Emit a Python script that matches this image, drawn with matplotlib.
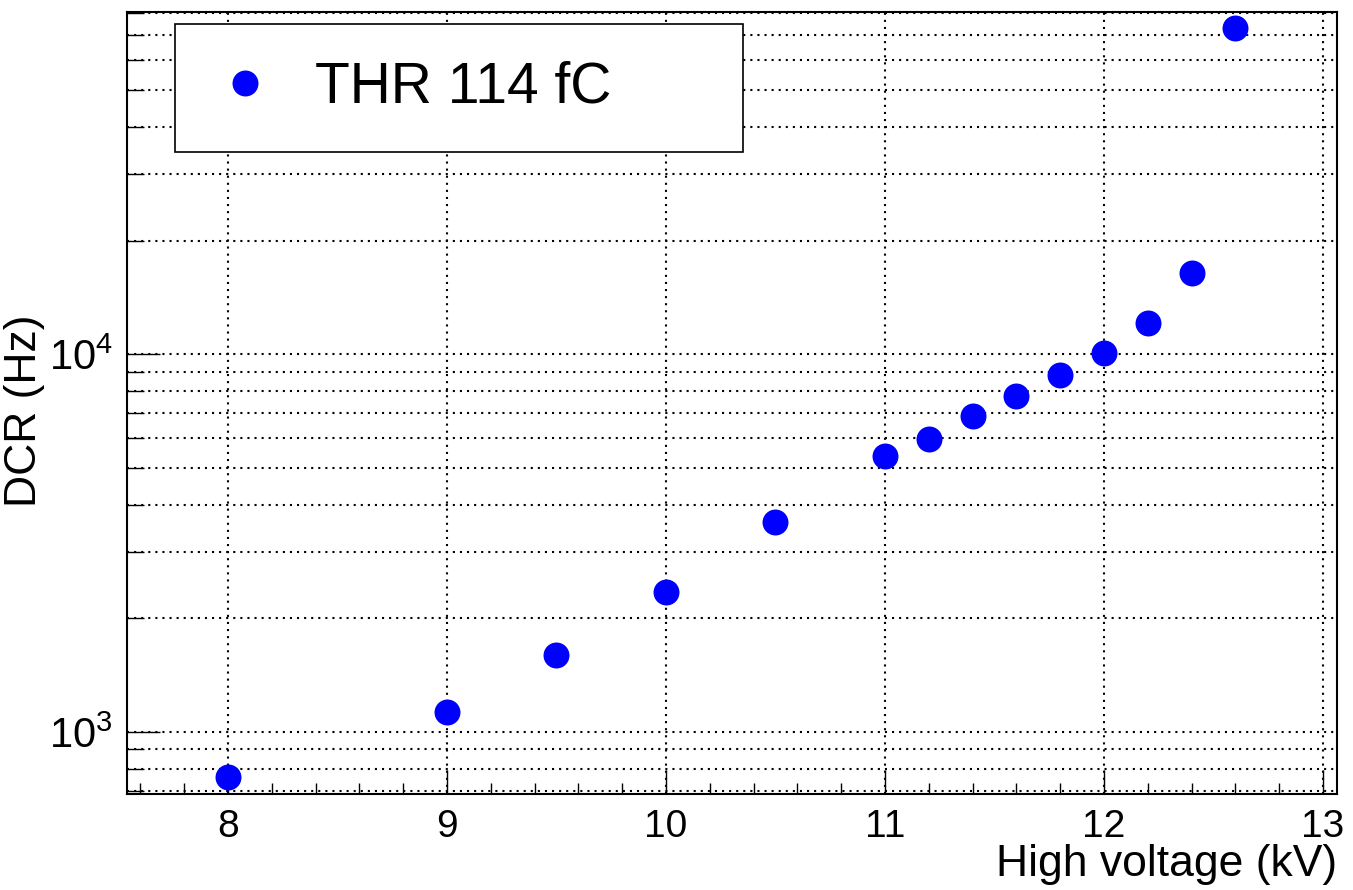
# DCR vs high voltage, ROOT-like log plot

import numpy as np
from matplotlib import pyplot as plt
from matplotlib.ticker import LogLocator, LogFormatterMathtext, MultipleLocator, NullFormatter

plt.rcParams['font.family'] = ['Liberation Sans', 'DejaVu Sans']
plt.rcParams['mathtext.fontset'] = 'custom'
plt.rcParams['mathtext.rm'] = 'Liberation Sans'
plt.rcParams['mathtext.it'] = 'Liberation Sans'

# data
hv = [8.0, 9.0, 9.5, 10.0, 10.5, 11.0, 11.2, 11.4, 11.6, 11.8, 12.0, 12.2, 12.4, 12.6]   # kV
dcr = [762, 1132, 1605, 2350, 3608, 5364, 5970, 6855, 7777, 8838, 10060, 12100, 16380, 73100]  # Hz
series_label = 'THR 114 fC'

fig = plt.figure(figsize=(13.53, 8.90), dpi=100, facecolor='w')
ax = fig.add_axes([127/1353, 96/890, 1210/1353, 782/890])

ax.plot(hv, dcr, 'o', color='#0000ff', ms=18.7, mew=0, label=series_label, zorder=3)

ax.set_yscale('log')
ax.set_xlim(7.539, 13.064)
ax.set_ylim(686, 80500)

# ticks
ax.xaxis.set_major_locator(MultipleLocator(1))
ax.xaxis.set_minor_locator(MultipleLocator(0.2))
ax.yaxis.set_major_locator(LogLocator(base=10))
ax.yaxis.set_minor_locator(LogLocator(base=10, subs=np.arange(2, 10)))
ax.yaxis.set_major_formatter(LogFormatterMathtext())
ax.yaxis.set_minor_formatter(NullFormatter())

ax.tick_params(axis='x', which='major', direction='in', length=17, width=1, labelsize=28, pad=11,
               top=False, bottom=True)
ax.tick_params(axis='x', which='minor', direction='in', length=8, width=1, top=False, bottom=True)
ax.tick_params(axis='y', which='major', direction='in', length=24, width=1, labelsize=30, pad=10,
               left=True, right=False)
ax.tick_params(axis='y', which='minor', direction='in', length=12, width=1, left=True, right=False)

for s in ax.spines.values():
    s.set_linewidth(1.5)

# dotted grid: x at majors, y at majors and minors
ax.grid(True, axis='x', which='major', color='k', linestyle=(0, (1, 2.4)), linewidth=1.5)
ax.grid(True, axis='y', which='both', color='k', linestyle=(0, (1, 2.4)), linewidth=1.5)
ax.set_axisbelow(True)

ax.set_xlabel('High voltage (kV)', fontsize=32, loc='right')
ax.xaxis.set_label_coords(1.0, -0.064)
ax.set_ylabel('DCR (Hz)', fontsize=32)
ax.yaxis.set_label_coords(-0.068, 0.49)

leg = ax.legend(loc='upper left', bbox_to_anchor=(0.0397, 0.822, 0.4694, 0.1627), mode='expand',
                fontsize=41, frameon=True, fancybox=False, edgecolor='k', framealpha=1,
                borderpad=0.65, handlelength=1.145, handletextpad=0.67, borderaxespad=0,
                numpoints=1)
leg.get_frame().set_linewidth(1.2)

plt.savefig('out.png', dpi=100, facecolor='w')
